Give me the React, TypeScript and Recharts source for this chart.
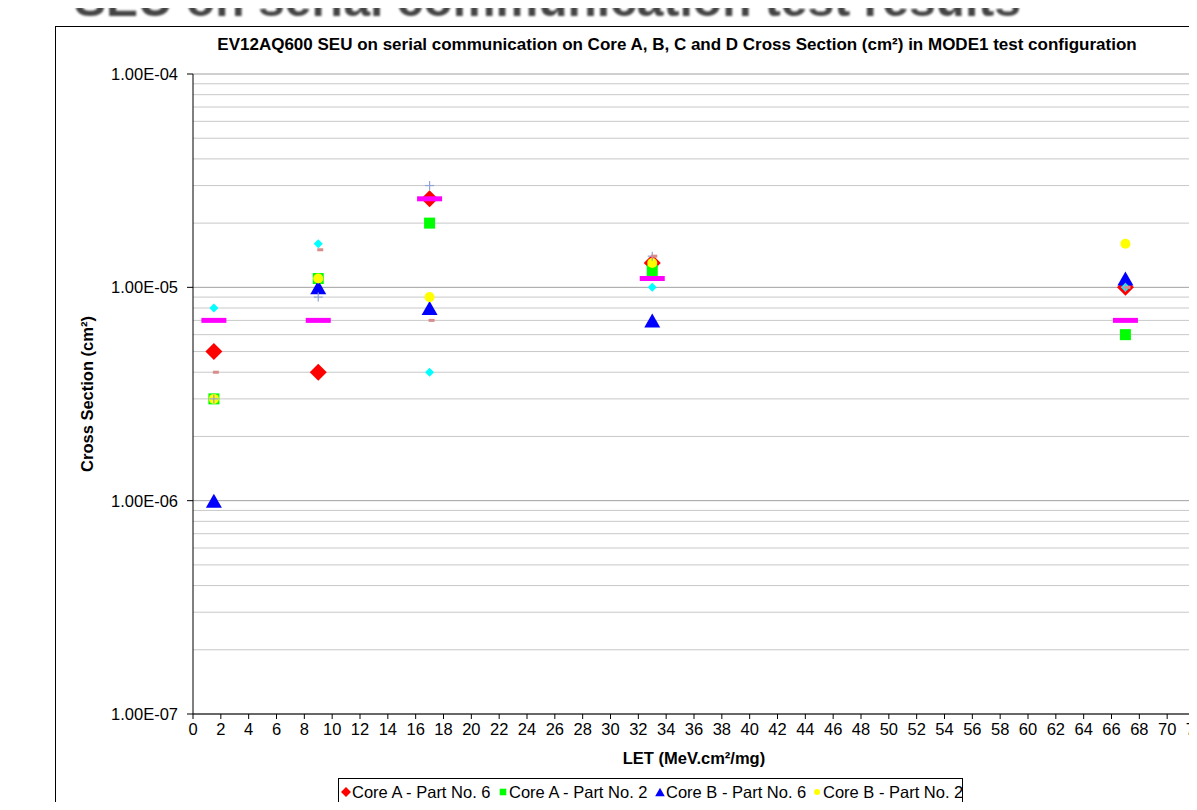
import React from 'react';
import { ScatterChart, Scatter, XAxis, YAxis, ReferenceLine } from 'recharts';

// LET values (MeV.cm²/mg) shared by every series
const letValues = [1.5, 9, 17, 33, 67];

// cross sections (cm²)
const coreAPart6 = [5e-6, 4e-6, 2.6e-5, 1.3e-5, 1e-5];
const coreAPart2 = [3e-6, 1.1e-5, 2e-5, 1.2e-5, 6e-6];
const coreBPart6 = [1e-6, 1e-5, 8e-6, 7e-6, 1.1e-5];
const coreBPart2 = [3e-6, 1.1e-5, 9e-6, 1.3e-5, 1.6e-5];
const coreCPart6 = [8e-6, 1.6e-5, 4e-6, 1e-5, 1e-5];
const coreCPart2 = [7e-6, 7e-6, 2.6e-5, 1.1e-5, 7e-6];
const coreDPart6 = [3e-6, 9e-6, 3e-5, 1.4e-5, 1e-5];
const coreDPart2 = [4e-6, 1.5e-5, 7e-6, 1.4e-5, 1e-5];

const xTicks = [0, 2, 4, 6, 8, 10, 12, 14, 16, 18, 20, 22, 24, 26, 28, 30, 32, 34, 36,
  38, 40, 42, 44, 46, 48, 50, 52, 54, 56, 58, 60, 62, 64, 66, 68, 70, 72];
const yTicks = [1e-7, 1e-6, 1e-5, 1e-4];
const decades = [1e-7, 1e-6, 1e-5];
const minorSteps = [2, 3, 4, 5, 6, 7, 8, 9];

const FONT = '"Liberation Sans", Arial, sans-serif';

type Marker = 'diamond' | 'square' | 'triangle' | 'circle' | 'smallDiamond' | 'dash' | 'plus' | 'smallDash';

const series: { name: string; values: number[]; color: string; marker: Marker }[] = [
  { name: 'Core A - Part No. 6', values: coreAPart6, color: '#ff0000', marker: 'diamond' },
  { name: 'Core A - Part No. 2', values: coreAPart2, color: '#00ff00', marker: 'square' },
  { name: 'Core B - Part No. 6', values: coreBPart6, color: '#0000ff', marker: 'triangle' },
  { name: 'Core B - Part No. 2', values: coreBPart2, color: '#ffff00', marker: 'circle' },
  { name: 'Core C - Part No. 6', values: coreCPart6, color: '#00ffff', marker: 'smallDiamond' },
  { name: 'Core C - Part No. 2', values: coreCPart2, color: '#ff00ff', marker: 'dash' },
  { name: 'Core D - Part No. 6', values: coreDPart6, color: '#8fa3d6', marker: 'plus' },
  { name: 'Core D - Part No. 2', values: coreDPart2, color: '#d88c8c', marker: 'smallDash' },
];

function drawMarker(marker: Marker, color: string, cx: number, cy: number, scale = 1) {
  const s = scale;
  switch (marker) {
    case 'diamond':
      return <polygon points={`${cx},${cy - 8.5 * s} ${cx + 8.5 * s},${cy} ${cx},${cy + 8.5 * s} ${cx - 8.5 * s},${cy}`} fill={color} />;
    case 'square':
      return <rect x={cx - 5.5 * s} y={cy - 5.5 * s} width={11 * s} height={11 * s} fill={color} />;
    case 'triangle':
      return <polygon points={`${cx},${cy - 7 * s} ${cx + 8 * s},${cy + 7 * s} ${cx - 8 * s},${cy + 7 * s}`} fill={color} />;
    case 'circle':
      return <circle cx={cx} cy={cy} r={5 * s} fill={color} />;
    case 'smallDiamond':
      return <polygon points={`${cx},${cy - 4.5 * s} ${cx + 4.5 * s},${cy} ${cx},${cy + 4.5 * s} ${cx - 4.5 * s},${cy}`} fill={color} />;
    case 'dash':
      return <rect x={cx - 12.5 * s} y={cy - 2.5 * s} width={25 * s} height={5 * s} fill={color} />;
    case 'plus':
      return (
        <g stroke={color} strokeWidth={1.2}>
          <line x1={cx - 4.5 * s} y1={cy} x2={cx + 4.5 * s} y2={cy} />
          <line x1={cx} y1={cy - 4.5 * s} x2={cx} y2={cy + 4.5 * s} />
        </g>
      );
    case 'smallDash':
      return <rect x={cx - 1 * s} y={cy - 1.5 * s} width={6 * s} height={3 * s} fill={color} />;
  }
  return null;
}

function formatSci(v: number) {
  const [m, e] = v.toExponential(2).split('e');
  const sign = e[0] === '-' ? '-' : '+';
  const digits = e.replace(/[+-]/, '').padStart(2, '0');
  return `${m}E${sign}${digits}`;
}

export default function App() {
  const minorGrid: number[] = [];
  decades.forEach((d) => minorSteps.forEach((m) => minorGrid.push(d * m)));

  return (
    <div
      style={{
        position: 'relative',
        margin: -8,
        width: 1197,
        height: 810,
        overflow: 'hidden',
        background: '#fff',
        fontFamily: FONT,
      }}
    >
      {/* document heading, cut off at the top of the page */}
      <div
        style={{
          position: 'absolute',
          left: 74,
          top: -28,
          fontSize: 48,
          fontWeight: 'bold',
          color: '#444',
          whiteSpace: 'nowrap',
          filter: 'blur(0.8px)',
        }}
      >
        SEU on serial communication test results
      </div>

      {/* chart frame */}
      <div
        style={{
          position: 'absolute',
          left: 55,
          top: 26,
          width: 1300,
          height: 900,
          border: '1px solid #000',
        }}
      />

      <div
        style={{
          position: 'absolute',
          left: 677,
          top: 45,
          transform: 'translate(-50%, -50%)',
          fontSize: 17,
          fontWeight: 'bold',
          whiteSpace: 'nowrap',
        }}
      >
        EV12AQ600 SEU on serial communication on Core A, B, C and D Cross Section (cm²) in MODE1 test configuration
      </div>

      <div style={{ position: 'absolute', left: 0, top: 0 }}>
        <ScatterChart
          width={1197}
          height={810}
          margin={{ top: 74, right: 2, bottom: 66, left: 93 }}
          style={{ fontFamily: FONT }}
        >
          <XAxis
            type="number"
            dataKey="x"
            domain={[0, 72]}
            ticks={xTicks}
            interval={0}
            height={30}
            allowDataOverflow
            axisLine={{ stroke: '#000' }}
            tickLine={{ stroke: '#000' }}
            tickSize={5}
            tickMargin={4}
            tick={{ fill: '#000', fontSize: 16.5 }}
          />
          <YAxis
            type="number"
            dataKey="y"
            scale="log"
            domain={[1e-7, 1e-4]}
            ticks={yTicks}
            allowDataOverflow
            width={100}
            axisLine={{ stroke: '#000' }}
            tickLine={{ stroke: '#000' }}
            tickSize={6}
            tickMargin={9}
            tickFormatter={formatSci}
            tick={{ fill: '#000', fontSize: 16.5 }}
          />
          {minorGrid.map((v) => (
            <ReferenceLine key={`m${v}`} y={v} stroke="#c8c8c8" strokeWidth={1} />
          ))}
          {yTicks.map((v) => (
            <ReferenceLine key={`M${v}`} y={v} stroke="#a0a0a0" strokeWidth={1} />
          ))}
          <ReferenceLine x={72} stroke="#808080" />
          {series.map((s) => (
            <Scatter
              key={s.name}
              name={s.name}
              data={letValues.map((x, i) => ({ x, y: s.values[i] }))}
              isAnimationActive={false}
              shape={(p: any) => drawMarker(s.marker, s.color, p.cx, p.cy)}
            />
          ))}
        </ScatterChart>
      </div>

      {/* axis titles */}
      <div
        style={{
          position: 'absolute',
          left: 87,
          top: 394,
          transform: 'translate(-50%, -50%) rotate(-90deg)',
          fontSize: 16.5,
          fontWeight: 'bold',
          whiteSpace: 'nowrap',
        }}
      >
        Cross Section (cm²)
      </div>
      <div
        style={{
          position: 'absolute',
          left: 694,
          top: 758,
          transform: 'translate(-50%, -50%)',
          fontSize: 16.5,
          fontWeight: 'bold',
          whiteSpace: 'nowrap',
        }}
      >
        LET (MeV.cm²/mg)
      </div>

      {/* legend: second row falls below the page edge, as in the reference */}
      <div
        style={{
          position: 'absolute',
          left: 338,
          top: 778,
          width: 625,
          height: 60,
          border: '1px solid #000',
          boxSizing: 'border-box',
          display: 'grid',
          gridTemplateColumns: 'repeat(4, 157px)',
          gridAutoRows: 24,
          paddingLeft: 2,
          paddingTop: 1,
          fontSize: 16.5,
        }}
      >
        {series.map((s) => (
          <div key={s.name} style={{ display: 'flex', alignItems: 'center', whiteSpace: 'nowrap' }}>
            <svg width={10} height={12} style={{ flex: 'none' }}>
              {drawMarker(s.marker, s.color, 5, 6, 0.6)}
            </svg>
            <span style={{ paddingLeft: 1 }}>{s.name}</span>
          </div>
        ))}
      </div>
    </div>
  );
}
